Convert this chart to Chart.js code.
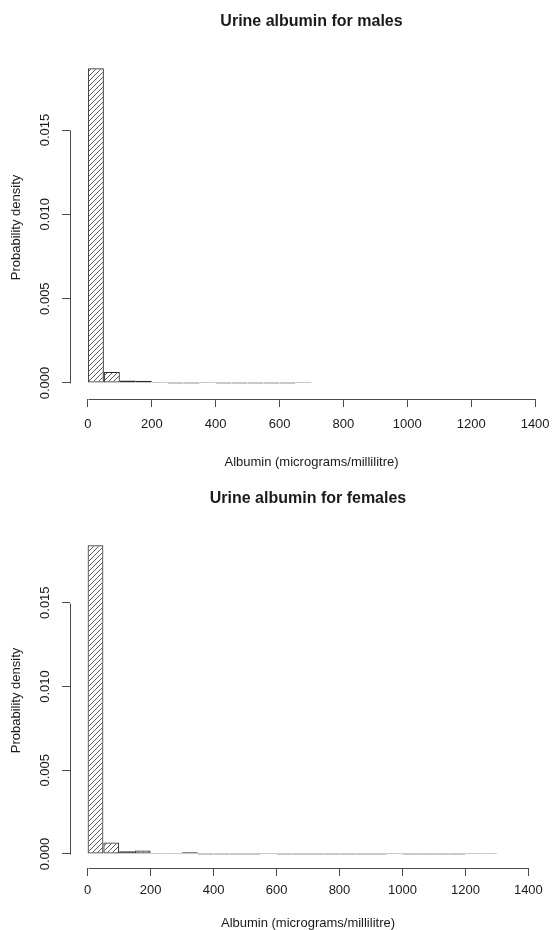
<!DOCTYPE html>
<html>
<head>
<meta charset="utf-8">
<script src="https://cdn.jsdelivr.net/npm/chart.js@4.4.1/dist/chart.umd.min.js"></script>
<style>
  body { margin: 0; background: #fff; }
  canvas { display: block; }
</style>
</head>
<body>
<canvas id="maleChart" width="553" height="475"></canvas>
<canvas id="femaleChart" width="553" height="455"></canvas>
<script>
'use strict';

// histogram bins (lower edge, micrograms/ml), all 50 wide
var binWidth = 50;
var maleBins = [0, 50, 100, 150, 200, 250, 300, 350, 400, 450, 500, 550, 600, 650];
var maleDensity = [0.01866, 0.00065, 0.00015, 0.00014, 0.00003, 0, 0, 0.00002,
                   0, 0, 0, 0, 0, 0.00002];

var femaleBins = [0, 50, 100, 150, 200, 250, 300, 350, 400, 450, 500, 550, 600,
                  650, 700, 750, 800, 850, 900, 950, 1000, 1050, 1100, 1150, 1200, 1250];
var femaleDensity = [0.01843, 0.00069, 0.00016, 0.00021, 0.00003, 0.00003, 0.0001,
                     0, 0, 0, 0, 0.00002, 0, 0, 0, 0, 0, 0, 0, 0.00002,
                     0, 0, 0, 0, 0.00002, 0.00002];

// axis ticks
var xTicks = [0, 200, 400, 600, 800, 1000, 1200, 1400];
var yTicks = [0, 0.005, 0.010, 0.015];

var textColor = '#1a1a1a';
var axisColor = '#4a4a4a';
Chart.defaults.font.family = "'Liberation Sans', Arial, sans-serif";
Chart.defaults.color = textColor;

// diagonal hatching like R's density= shading
function hatch() {
  var c = document.createElement('canvas');
  c.width = 5; c.height = 5;
  var g = c.getContext('2d');
  g.strokeStyle = '#5a5a5a';
  g.lineWidth = 1;
  g.beginPath();
  g.moveTo(0, 5); g.lineTo(5, 0);
  g.moveTo(-1, 1); g.lineTo(1, -1);
  g.moveTo(4, 6); g.lineTo(6, 4);
  g.stroke();
  return g.createPattern(c, 'repeat');
}

// R style detached axes: lines only span first..last tick, y labels rotated
var rAxes = {
  id: 'rAxes',
  afterDraw: function(chart) {
    var ctx = chart.ctx, x = chart.scales.x, y = chart.scales.y, area = chart.chartArea;
    ctx.save();
    ctx.strokeStyle = axisColor;
    ctx.lineWidth = 1;
    ctx.beginPath();
    var yb = Math.round(area.bottom) + 0.5;
    ctx.moveTo(Math.round(x.getPixelForValue(xTicks[0])) + 0.5, yb);
    ctx.lineTo(Math.round(x.getPixelForValue(xTicks[xTicks.length - 1])) + 0.5, yb);
    var xl = Math.round(area.left) + 0.5;
    ctx.moveTo(xl, Math.round(y.getPixelForValue(yTicks[0])) + 0.5);
    ctx.lineTo(xl, Math.round(y.getPixelForValue(yTicks[yTicks.length - 1])) + 0.5);
    ctx.stroke();

    ctx.fillStyle = textColor;
    ctx.font = "13px 'Liberation Sans', Arial, sans-serif";
    ctx.textAlign = 'center';
    ctx.textBaseline = 'middle';
    yTicks.forEach(function(v) {
      ctx.save();
      ctx.translate(area.left - 25, y.getPixelForValue(v));
      ctx.rotate(-Math.PI / 2);
      ctx.fillText(v.toFixed(3), 0, 0);
      ctx.restore();
    });
    ctx.restore();
  }
};

function drawHist(id, title, bins, density, lay) {
  var ctx = document.getElementById(id).getContext('2d');
  var points = bins.map(function(b, i) {
    return { x: b + binWidth / 2, y: density[i] };
  });

  return new Chart(ctx, {
    type: 'bar',
    data: {
      datasets: [{
        data: points,
        backgroundColor: hatch(),
        borderColor: '#2a2a2a',
        borderWidth: 1,
        borderSkipped: false,
        inflateAmount: 0,
        minBarLength: 1,
        barPercentage: 1,
        categoryPercentage: 1
      }]
    },
    options: {
      responsive: false,
      animation: false,
      events: [],
      layout: { padding: { left: 0, right: lay.padRight, top: 0, bottom: 0 } },
      plugins: {
        legend: { display: false },
        tooltip: { enabled: false },
        title: {
          display: true,
          text: title,
          fullSize: false,
          color: textColor,
          font: { size: 16, weight: 'bold', lineHeight: 1.2 },
          padding: { top: lay.titleTop, bottom: lay.titleBottom }
        }
      },
      scales: {
        x: {
          type: 'linear',
          min: -56,
          max: 1456,
          offset: false,
          afterBuildTicks: function(axis) {
            axis.ticks = xTicks.map(function(v) { return { value: v }; });
          },
          afterFit: function(axis) {
            axis.height = lay.xHeight;
            axis.paddingLeft = 0;
            axis.paddingRight = 0;
          },
          grid: { offset: false, drawOnChartArea: false, drawTicks: true, tickLength: 8, color: axisColor },
          border: { display: false },
          ticks: {
            padding: lay.tickPad,
            maxRotation: 0,
            autoSkip: false,
            font: { size: 13 },
            callback: function(v) { return String(v); }
          },
          title: {
            display: true,
            text: 'Albumin (micrograms/millilitre)',
            font: { size: 13, lineHeight: 1 },
            padding: { top: 0, bottom: lay.xTitlePad }
          }
        },
        y: {
          min: lay.yMin,
          max: lay.yMax,
          afterBuildTicks: function(axis) {
            axis.ticks = yTicks.map(function(v) { return { value: v }; });
          },
          afterFit: function(axis) {
            axis.width = 70;
            axis.paddingTop = 0;
            axis.paddingBottom = 0;
          },
          grid: { drawOnChartArea: false, drawTicks: true, tickLength: 8, color: axisColor },
          border: { display: false },
          ticks: { display: false },
          title: {
            display: true,
            text: 'Probability density',
            font: { size: 13, lineHeight: 1 },
            padding: { top: 9.5, bottom: 0 }
          }
        }
      }
    },
    plugins: [rAxes]
  });
}

drawHist('maleChart', 'Urine albumin for males', maleBins, maleDensity, {
  padRight: 0, titleTop: 12.3, titleBottom: 24.5, xHeight: 76, tickPad: 10,
  xTitlePad: 6.5, yMin: -0.000949, yMax: 0.01939
});

drawHist('femaleChart', 'Urine albumin for females', femaleBins, femaleDensity, {
  padRight: 7, titleTop: 14.4, titleBottom: 24.4, xHeight: 62, tickPad: 7,
  xTitlePad: 0, yMin: -0.000836, yMax: 0.01916
});
</script>
</body>
</html>
